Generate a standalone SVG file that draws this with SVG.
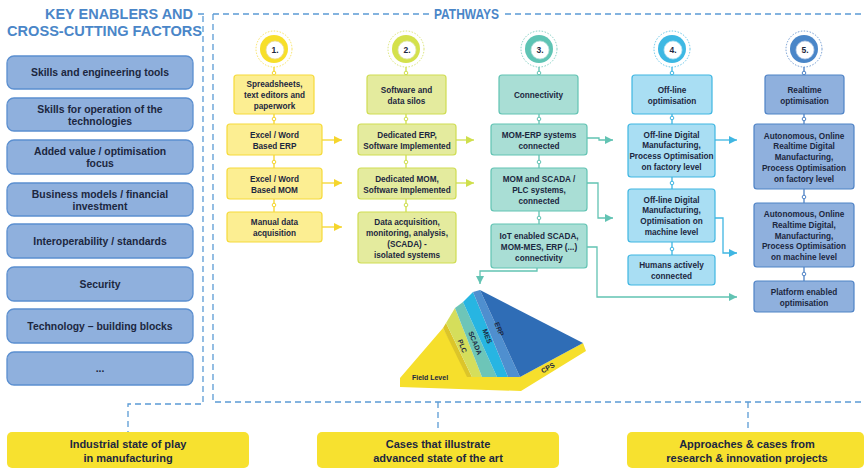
<svg xmlns="http://www.w3.org/2000/svg" width="865" height="470" viewBox="0 0 865 470">
<style>
.t{font-family:"Liberation Sans",Arial,sans-serif;font-weight:bold;fill:#1c2740;text-anchor:middle}
.s{font-size:8.2px}
.m{font-size:10.4px}
.b{font-size:11px}
.hd{font-family:"Liberation Sans",Arial,sans-serif;font-weight:bold;fill:#4a86c8}
.dash{fill:none;stroke:#5b9bd5;stroke-width:1.3;stroke-dasharray:6 4}
.lb{fill:#8fb0dd;stroke:#5b8fd0;stroke-width:1.3}
.bb{fill:#f7e12f}
.c1{fill:#fcee92;stroke:#f6da3a;stroke-width:1.2}
.c2{fill:#e4eb9e;stroke:#cfdd52;stroke-width:1.2}
.c3{fill:#a9ded5;stroke:#62c3b3;stroke-width:1.2}
.c4{fill:#a9def3;stroke:#3fb6e2;stroke-width:1.2}
.c5{fill:#8fb0dd;stroke:#4f83c6;stroke-width:1.2}
.l1{fill:none;stroke:#f5d52c;stroke-width:1.3}
.l2{fill:none;stroke:#cfdf4c;stroke-width:1.3}
.l3{fill:none;stroke:#62c3b3;stroke-width:1.3}
.l4{fill:none;stroke:#3fb6e2;stroke-width:1.3}
.l5{fill:none;stroke:#4f83c6;stroke-width:1.3}
.pt{font-family:"Liberation Sans",Arial,sans-serif;font-weight:bold;fill:#1c2740;font-size:7px;text-anchor:middle}
.num{font-family:"Liberation Sans",Arial,sans-serif;font-weight:bold;fill:#1c2740;font-size:8.5px;text-anchor:middle}
</style>
<defs>
<marker id="a1" markerUnits="userSpaceOnUse" markerWidth="9" markerHeight="8" refX="8" refY="4" orient="auto"><path d="M0,0 L8,4 L0,8 z" fill="#f5d52c"/></marker>
<marker id="a2" markerUnits="userSpaceOnUse" markerWidth="9" markerHeight="8" refX="8" refY="4" orient="auto"><path d="M0,0 L8,4 L0,8 z" fill="#cfdf4c"/></marker>
<marker id="a3" markerUnits="userSpaceOnUse" markerWidth="9" markerHeight="8" refX="8" refY="4" orient="auto"><path d="M0,0 L8,4 L0,8 z" fill="#62c3b3"/></marker>
<marker id="a4" markerUnits="userSpaceOnUse" markerWidth="9" markerHeight="8" refX="8" refY="4" orient="auto"><path d="M0,0 L8,4 L0,8 z" fill="#3fb6e2"/></marker>
</defs>
<rect width="865" height="470" fill="#ffffff"/>

<!-- frames -->
<g id="frames">
<path class="dash" d="M213,14 H430 M505,14 H865"/>
<path class="dash" d="M213,14 V402 H865"/>
<path class="dash" d="M198,14 H204 M203,16 V404 H128 V432"/>
<path class="dash" d="M438,402 V432 M748,402 V432"/>
</g>

<g id="headers">
<text class="hd" x="45" y="19" font-size="15.5" textLength="148" lengthAdjust="spacingAndGlyphs">KEY ENABLERS AND</text>
<text class="hd" x="7" y="36" font-size="15.5" textLength="195" lengthAdjust="spacingAndGlyphs">CROSS-CUTTING FACTORS</text>
<text class="hd" x="434" y="19" font-size="14.5" textLength="65" lengthAdjust="spacingAndGlyphs">PATHWAYS</text>
</g>

<!-- left enablers -->
<g id="enabler1"><rect class="lb" x="7" y="56" width="186" height="33" rx="7"/><text class="t m" x="100" y="76">Skills and engineering tools</text></g>
<g id="enabler2"><rect class="lb" x="7" y="98" width="186" height="33" rx="7"/><text class="t m" x="100" y="112.5">Skills for operation of the<tspan x="100" dy="12">technologies</tspan></text></g>
<g id="enabler3"><rect class="lb" x="7" y="140" width="186" height="34" rx="7"/><text class="t m" x="100" y="155">Added value / optimisation<tspan x="100" dy="12">focus</tspan></text></g>
<g id="enabler4"><rect class="lb" x="7" y="183" width="186" height="33" rx="7"/><text class="t m" x="100" y="197.5">Business models /  financial<tspan x="100" dy="12">investment</tspan></text></g>
<g id="enabler5"><rect class="lb" x="7" y="224" width="186" height="34" rx="7"/><text class="t m" x="100" y="244.5">Interoperability / standards</text></g>
<g id="enabler6"><rect class="lb" x="7" y="267" width="186" height="34" rx="7"/><text class="t m" x="100" y="287.5">Security</text></g>
<g id="enabler7"><rect class="lb" x="7" y="309" width="186" height="34" rx="7"/><text class="t m" x="100" y="329.5">Technology – building blocks</text></g>
<g id="enabler8"><rect class="lb" x="7" y="352" width="186" height="33" rx="7"/><text class="t m" x="100" y="372">...</text></g>

<!-- step circles -->
<g id="step1">
<circle cx="274" cy="49" r="18" fill="none" stroke="#f6da3a" stroke-width="0.8" stroke-dasharray="1.5 1.5"/>
<circle cx="274" cy="49" r="14" fill="#f7df2a"/>
<circle cx="275" cy="50" r="9" fill="#ffffff" stroke="#e9d9a0" stroke-width="0.8"/>
<text class="num" x="275" y="53">1.</text>
</g>
<g id="step2">
<circle cx="406" cy="49" r="18" fill="none" stroke="#cfdd52" stroke-width="0.8" stroke-dasharray="1.5 1.5"/>
<circle cx="406" cy="49" r="14" fill="#d4e14c"/>
<circle cx="407" cy="50" r="9" fill="#ffffff" stroke="#dfe6b0" stroke-width="0.8"/>
<text class="num" x="407" y="53">2.</text>
</g>
<g id="step3">
<circle cx="539" cy="49" r="18" fill="none" stroke="#62c3b3" stroke-width="0.8" stroke-dasharray="1.5 1.5"/>
<circle cx="539" cy="49" r="14" fill="#5fc4b4"/>
<circle cx="540" cy="50" r="9" fill="#ffffff" stroke="#b8e0da" stroke-width="0.8"/>
<text class="num" x="540" y="53">3.</text>
</g>
<g id="step4">
<circle cx="672" cy="49" r="18" fill="none" stroke="#3fb6e2" stroke-width="0.8" stroke-dasharray="1.5 1.5"/>
<circle cx="672" cy="49" r="14" fill="#3db8e3"/>
<circle cx="673" cy="50" r="9" fill="#ffffff" stroke="#b5e2f2" stroke-width="0.8"/>
<text class="num" x="673" y="53">4.</text>
</g>
<g id="step5">
<circle cx="804" cy="49" r="18" fill="none" stroke="#4f83c6" stroke-width="0.8" stroke-dasharray="1.5 1.5"/>
<circle cx="804" cy="49" r="14" fill="#4a86c8"/>
<circle cx="805" cy="50" r="9" fill="#ffffff" stroke="#b7cbe6" stroke-width="0.8"/>
<text class="num" x="805" y="53">5.</text>
</g>

<!-- connectors -->
<g id="connectors">
<path class="l1" d="M274,67 V75 M274,114 V124 M274,155 V168 M274,199 V212"/>
<path class="l2" d="M406,67 V75 M406,114 V124 M406,155 V168 M406,199 V212"/>
<path class="l3" d="M539,67 V75 M539,114 V124 M539,155 V168 M539,211 V224"/>
<path class="l4" d="M672,67 V75 M672,114 V124 M672,177 V189 M672,242 V255"/>
<path class="l5" d="M804,67 V75 M804,114 V124 M804,189 V203 M804,267 V281"/>
<g fill="#ffffff" stroke-width="1">
<circle cx="274" cy="73" r="1.8" stroke="#f5d52c"/><circle cx="274" cy="119" r="1.8" stroke="#f5d52c"/><circle cx="274" cy="162" r="1.8" stroke="#f5d52c"/><circle cx="274" cy="205" r="1.8" stroke="#f5d52c"/>
<circle cx="406" cy="73" r="1.8" stroke="#cfdf4c"/><circle cx="406" cy="119" r="1.8" stroke="#cfdf4c"/><circle cx="406" cy="162" r="1.8" stroke="#cfdf4c"/><circle cx="406" cy="205" r="1.8" stroke="#cfdf4c"/>
<circle cx="539" cy="73" r="1.8" stroke="#62c3b3"/><circle cx="539" cy="119" r="1.8" stroke="#62c3b3"/><circle cx="539" cy="162" r="1.8" stroke="#62c3b3"/><circle cx="539" cy="218" r="1.8" stroke="#62c3b3"/>
<circle cx="672" cy="73" r="1.8" stroke="#3fb6e2"/><circle cx="672" cy="118" r="1.8" stroke="#3fb6e2"/><circle cx="672" cy="183" r="1.8" stroke="#3fb6e2"/><circle cx="672" cy="249" r="1.8" stroke="#3fb6e2"/>
<circle cx="804" cy="73" r="1.8" stroke="#4f83c6"/><circle cx="804" cy="119" r="1.8" stroke="#4f83c6"/><circle cx="804" cy="197" r="1.8" stroke="#4f83c6"/><circle cx="804" cy="274" r="1.8" stroke="#4f83c6"/>
</g>
<path class="l1" d="M322,140 H342" marker-end="url(#a1)"/>
<path class="l1" d="M322,183 H342" marker-end="url(#a1)"/>
<path class="l1" d="M322,227 H342" marker-end="url(#a1)"/>
<path class="l2" d="M456,140 H474" marker-end="url(#a2)"/>
<path class="l2" d="M456,183 H474" marker-end="url(#a2)"/>
<path class="l3" d="M587,138 H599 V140 H613" marker-end="url(#a3)"/>
<path class="l3" d="M587,183 H598 V218 H613" marker-end="url(#a3)"/>
<path class="l3" d="M587,247 H597 V297 H737" marker-end="url(#a3)"/>
<path class="l3" d="M537,268 V271 H480 V284" marker-end="url(#a3)"/>
<path class="l4" d="M715,140 H737" marker-end="url(#a4)"/>
<path class="l4" d="M715,218 H723 V253 H737" marker-end="url(#a4)"/>
</g>

<!-- column 1 -->
<g id="c1b1"><rect class="c1" x="234" y="75" width="80" height="39" rx="3"/><text class="t s" x="274.5" y="87">Spreadsheets,<tspan x="274.5" dy="11">text editors and</tspan><tspan x="274.5" dy="11">paperwork</tspan></text></g>
<g id="c1b2"><rect class="c1" x="227" y="124" width="95" height="31" rx="3"/><text class="t s" x="274.5" y="137.5">Excel / Word<tspan x="274.5" dy="11">Based ERP</tspan></text></g>
<g id="c1b3"><rect class="c1" x="227" y="168" width="95" height="31" rx="3"/><text class="t s" x="274.5" y="181.5">Excel / Word<tspan x="274.5" dy="11">Based MOM</tspan></text></g>
<g id="c1b4"><rect class="c1" x="227" y="212" width="95" height="30" rx="3"/><text class="t s" x="274.5" y="225">Manual data<tspan x="274.5" dy="11">acquisition</tspan></text></g>

<!-- column 2 -->
<g id="c2b1"><rect class="c2" x="367" y="75" width="79" height="39" rx="3"/><text class="t s" x="406.5" y="93">Software and<tspan x="406.5" dy="11">data silos</tspan></text></g>
<g id="c2b2"><rect class="c2" x="358" y="124" width="98" height="31" rx="3"/><text class="t s" x="407" y="137.5">Dedicated ERP,<tspan x="407" dy="11">Software Implemented</tspan></text></g>
<g id="c2b3"><rect class="c2" x="358" y="168" width="98" height="31" rx="3"/><text class="t s" x="407" y="181.5">Dedicated MOM,<tspan x="407" dy="11">Software Implemented</tspan></text></g>
<g id="c2b4"><rect class="c2" x="358" y="212" width="98" height="51" rx="3"/><text class="t s" x="407" y="224.5">Data acquisition,<tspan x="407" dy="11">monitoring, analysis,</tspan><tspan x="407" dy="11">(SCADA)  -</tspan><tspan x="407" dy="11">isolated systems</tspan></text></g>

<!-- column 3 -->
<g id="c3b1"><rect class="c3" x="499" y="75" width="79" height="39" rx="3"/><text class="t s" x="538.5" y="98">Connectivity</text></g>
<g id="c3b2"><rect class="c3" x="491" y="124" width="96" height="31" rx="3"/><text class="t s" x="539" y="137.5">MOM-ERP systems<tspan x="539" dy="11">connected</tspan></text></g>
<g id="c3b3"><rect class="c3" x="491" y="168" width="96" height="43" rx="3"/><text class="t s" x="539" y="182">MOM and SCADA /<tspan x="539" dy="11">PLC systems,</tspan><tspan x="539" dy="11">connected</tspan></text></g>
<g id="c3b4"><rect class="c3" x="491" y="224" width="96" height="44" rx="3"/><text class="t s" x="539" y="238.5">IoT enabled SCADA,<tspan x="539" dy="11">MOM-MES, ERP (...)</tspan><tspan x="539" dy="11">connectivity</tspan></text></g>

<!-- column 4 -->
<g id="c4b1"><rect class="c4" x="632" y="75" width="80" height="39" rx="3"/><text class="t s" x="672" y="93">Off-line<tspan x="672" dy="11">optimisation</tspan></text></g>
<g id="c4b2"><rect class="c4" x="628" y="124" width="87" height="53" rx="3"/><text class="t s" x="671.5" y="137.5">Off-line Digital<tspan x="671.5" dy="10.8">Manufacturing,</tspan><tspan x="671.5" dy="10.8">Process Optimisation</tspan><tspan x="671.5" dy="10.8">on factory level</tspan></text></g>
<g id="c4b3"><rect class="c4" x="628" y="189" width="87" height="53" rx="3"/><text class="t s" x="671.5" y="202.5">Off-line Digital<tspan x="671.5" dy="10.8">Manufacturing,</tspan><tspan x="671.5" dy="10.8">Optimisation on</tspan><tspan x="671.5" dy="10.8">machine level</tspan></text></g>
<g id="c4b4"><rect class="c4" x="628" y="255" width="87" height="30" rx="3"/><text class="t s" x="671.5" y="268">Humans actively<tspan x="671.5" dy="11">connected</tspan></text></g>

<!-- column 5 -->
<g id="c5b1"><rect class="c5" x="765" y="75" width="79" height="39" rx="3"/><text class="t s" x="804.5" y="93">Realtime<tspan x="804.5" dy="11">optimisation</tspan></text></g>
<g id="c5b2"><rect class="c5" x="754" y="124" width="100" height="65" rx="3"/><text class="t s" x="804" y="138.5">Autonomous, Online<tspan x="804" dy="10.8">Realtime Digital</tspan><tspan x="804" dy="10.8">Manufacturing,</tspan><tspan x="804" dy="10.8">Process Optimisation</tspan><tspan x="804" dy="10.8">on factory level</tspan></text></g>
<g id="c5b3"><rect class="c5" x="754" y="203" width="100" height="64" rx="3"/><text class="t s" x="804" y="217">Autonomous, Online<tspan x="804" dy="10.8">Realtime Digital,</tspan><tspan x="804" dy="10.8">Manufacturing,</tspan><tspan x="804" dy="10.8">Process Optimisation</tspan><tspan x="804" dy="10.8">on machine level</tspan></text></g>
<g id="c5b4"><rect class="c5" x="754" y="281" width="100" height="31" rx="3"/><text class="t s" x="804" y="294.5">Platform enabled<tspan x="804" dy="11">optimisation</tspan></text></g>

<!-- pyramid -->
<g id="pyramid">
<polygon points="400,378 443,328 470,377 520,377 583,343 586,351 521,391 400,387" fill="#f6df2c"/>
<polygon points="443,328 446,323 472,377 467,377" fill="#dcc52a"/>
<polygon points="446,323 455,308 482,377 472,377" fill="#d5de5b"/>
<polygon points="455,308 463,302 497,377 482,377" fill="#6dc5b8"/>
<polygon points="463,302 473,292 508,377 497,377" fill="#27b5e2"/>
<polygon points="473,292 480,290 520,377 508,377" fill="#4f8fcf"/>
<polygon points="480,290 583,343 520,377" fill="#2f6db6"/>
<text class="pt" x="430" y="380">Field Level</text>
<text class="pt" transform="translate(460,347) rotate(68)">PLC</text>
<text class="pt" transform="translate(473,344) rotate(68)">SCADA</text>
<text class="pt" transform="translate(485,337) rotate(68)">MES</text>
<text class="pt" transform="translate(497,330) rotate(68)">ERP</text>
<text class="pt" transform="translate(549,370) rotate(-29)">CPS</text>
</g>

<!-- bottom boxes -->
<g id="bottom1"><rect class="bb" x="7" y="432" width="242" height="36" rx="5"/><text class="t b" x="128" y="447.5">Industrial state of play<tspan x="128" dy="14">in manufacturing</tspan></text></g>
<g id="bottom2"><rect class="bb" x="317" y="432" width="242" height="36" rx="5"/><text class="t b" x="438" y="447.5">Cases that illustrate<tspan x="438" dy="14">advanced state of the art</tspan></text></g>
<g id="bottom3"><rect class="bb" x="627" y="432" width="237" height="36" rx="5"/><text class="t b" x="747" y="447.5">Approaches &amp; cases from<tspan x="747" dy="14">research &amp; innovation projects</tspan></text></g>
</svg>
